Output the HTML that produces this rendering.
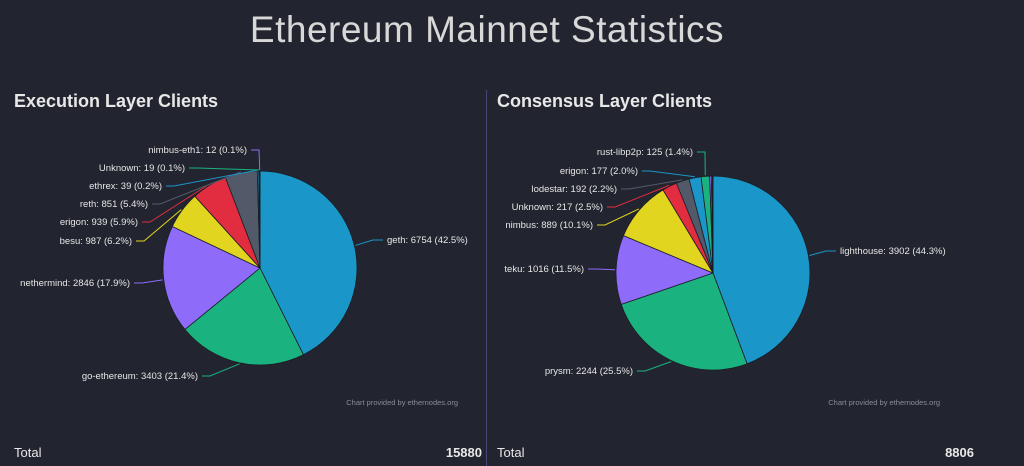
<!DOCTYPE html>
<html><head><meta charset="utf-8"><style>
body{margin:0;width:1024px;height:466px;background:#22252f;overflow:hidden;font-family:"Liberation Sans",sans-serif;color:#e8e8e8;position:relative}
.t{position:absolute;white-space:nowrap}
</style></head><body>
<div class="t" style="left:0;width:974px;text-align:center;top:9px;font-size:37px;font-weight:300;color:#d8d8d8;letter-spacing:0.5px">Ethereum Mainnet Statistics</div>
<div class="t" style="left:14px;top:91px;font-size:18px;font-weight:bold">Execution Layer Clients</div>
<div class="t" style="left:497px;top:91px;font-size:18px;font-weight:bold">Consensus Layer Clients</div>
<div style="position:absolute;left:486px;top:90px;width:1px;height:376px;background:#4a4578"></div>
<div class="t" style="left:14px;top:445px;font-size:13px">Total</div>
<div class="t" style="right:542px;top:445px;font-size:13px;font-weight:bold">15880</div>
<div class="t" style="left:497px;top:445px;font-size:13px">Total</div>
<div class="t" style="right:50px;top:445px;font-size:13px;font-weight:bold">8806</div>
<svg id="s" width="1024" height="466" style="position:absolute;left:0;top:0" font-family="Liberation Sans, sans-serif" font-size="9.5"></svg>
<script>
const C={b:"#1a96c8",g:"#1ab37f",p:"#8f6bfa",y:"#e2d51f",r:"#e22d40",k:"#525a6a",o:"#d08030"};
function pie(cx,cy,R,data,foot){
 let s=document.getElementById('s'),h='',a=0,tot=data.reduce((x,d)=>x+d.v,0);
 data.forEach(d=>{
  let a2=a+d.v/tot*2*Math.PI;
  let p=t=>[cx+R*Math.sin(t),cy-R*Math.cos(t)];
  let [x1,y1]=p(a),[x2,y2]=p(a2);
  h+=`<path d="M${cx},${cy}L${x1},${y1}A${R},${R} 0 ${a2-a>Math.PI?1:0} 1 ${x2},${y2}Z" fill="${d.c}" stroke="#1a1d24" stroke-width="0.8"/>`;
  if(d.l){
   let m=(a+a2)/2,ex=cx+(R+1)*Math.sin(m),ey=cy-(R+1)*Math.cos(m);
   let [lx,ly,al]=d.l;
   let sx=al=='start'?lx-4:lx+4, kx=al=='start'?lx-14:lx+12;
   h+=`<polyline points="${sx},${ly-3} ${kx},${ly-3} ${ex},${ey}" fill="none" stroke="${d.c}" stroke-width="1"/>`;
   h+=`<text x="${lx}" y="${ly}" text-anchor="${al}" fill="#e6e6e6">${d.t}</text>`;
  }
  a=a2;
 });
 h+=`<text x="${foot[0]}" y="${foot[1]}" text-anchor="end" font-size="7.5" fill="#8a8d96">Chart provided by ethernodes.org</text>`;
 s.innerHTML+=h;
}
pie(260,268,97,[
 {v:6754,c:C.b,t:"geth: 6754 (42.5%)",l:[387,243,'start']},
 {v:3403,c:C.g,t:"go-ethereum: 3403 (21.4%)",l:[198,379,'end']},
 {v:2846,c:C.p,t:"nethermind: 2846 (17.9%)",l:[130,286,'end']},
 {v:987,c:C.y,t:"besu: 987 (6.2%)",l:[132,244,'end']},
 {v:939,c:C.r,t:"erigon: 939 (5.9%)",l:[138,225,'end']},
 {v:851,c:C.k,t:"reth: 851 (5.4%)",l:[148,207,'end']},
 {v:39,c:C.b,t:"ethrex: 39 (0.2%)",l:[162,189,'end']},
 {v:19,c:C.g,t:"Unknown: 19 (0.1%)",l:[185,171,'end']},
 {v:12,c:C.p,t:"nimbus-eth1: 12 (0.1%)",l:[247,153,'end']}
],[458,405]);
pie(713,273,97,[
 {v:3902,c:C.b,t:"lighthouse: 3902 (44.3%)",l:[840,254,'start']},
 {v:2244,c:C.g,t:"prysm: 2244 (25.5%)",l:[633,374,'end']},
 {v:1016,c:C.p,t:"teku: 1016 (11.5%)",l:[584,272,'end']},
 {v:889,c:C.y,t:"nimbus: 889 (10.1%)",l:[593,228,'end']},
 {v:217,c:C.r,t:"Unknown: 217 (2.5%)",l:[603,210,'end']},
 {v:192,c:C.k,t:"lodestar: 192 (2.2%)",l:[617,192,'end']},
 {v:177,c:C.b,t:"erigon: 177 (2.0%)",l:[638,174,'end']},
 {v:125,c:C.g,t:"rust-libp2p: 125 (1.4%)",l:[693,155,'end']},
 {v:25,c:C.p},{v:15,c:C.y},{v:8,c:C.o}
],[940,405]);
</script>
</body></html>
